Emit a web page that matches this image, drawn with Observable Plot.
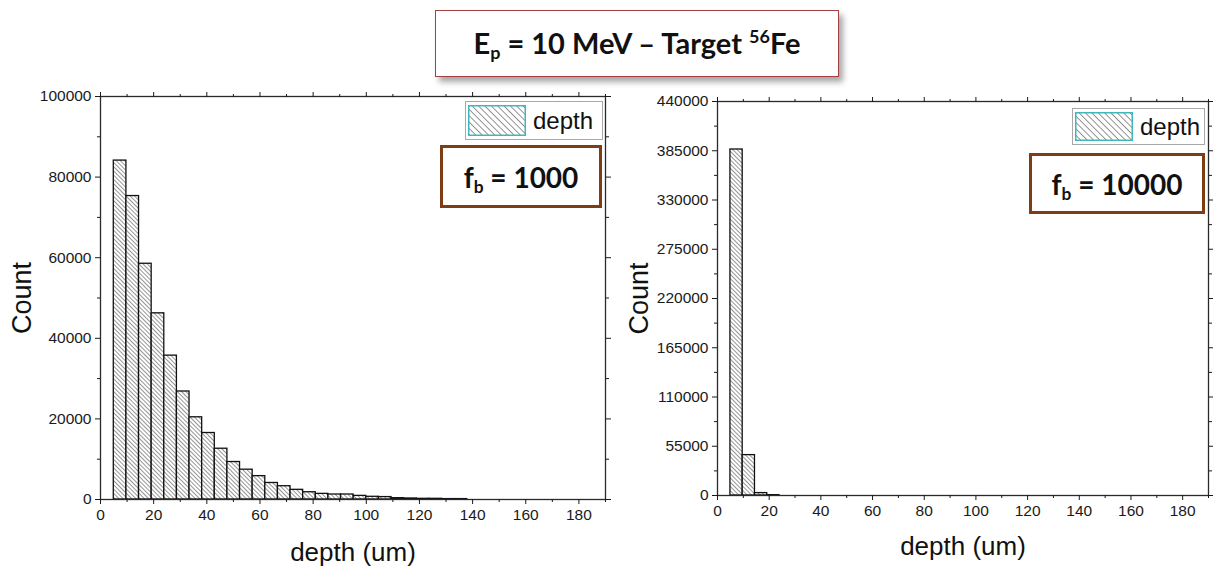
<!DOCTYPE html>
<html>
<head>
<meta charset="utf-8">
<script src="https://cdn.jsdelivr.net/npm/d3@7"></script>
<script src="https://cdn.jsdelivr.net/npm/@observablehq/plot@0.6"></script>
<style>
  body { margin: 0; background: #fff; }
  #page { position: relative; width: 1213px; height: 566px; overflow: hidden; font-family: "Liberation Sans", Arial, sans-serif; }
  .panel { position: absolute; top: 0; }
  .title { position: absolute; left: 435px; top: 10px; width: 404px; height: 67px; box-sizing: border-box;
           border: 1px solid #a04040; background: #fff; box-shadow: 4px 5px 6px rgba(0,0,0,0.35);
           display: flex; align-items: center; justify-content: center; padding-bottom: 3px;
           font-family: Lato, "Open Sans", sans-serif; font-weight: bold; font-size: 29px; color: #111; }
  .fb { position: absolute; box-sizing: border-box; border: 3px solid #7e3d12; background: #fff;
        display: flex; align-items: center; justify-content: center;
        font-family: Lato, "Open Sans", sans-serif; font-weight: bold; font-size: 28px; color: #111; }
  .legend { position: absolute; box-sizing: border-box; border: 1.5px solid #a8a8a8; background: #fff;
            display: flex; align-items: center; font-size: 24px; color: #111; }
  .legend svg { margin-left: 2px; margin-right: 7px; }
  sub { font-size: 0.62em; vertical-align: -0.3em; line-height: 0; }
  sup { font-size: 0.62em; vertical-align: 0.6em; line-height: 0; }
</style>
</head>
<body>
<div id="page">
  <div class="title"><span>E<sub>p</sub> = 10 MeV – Target <sup>56</sup>Fe</span></div>
</div>
<script>
// Histogram bins of implantation depth (um)
const depthBinStart = 5;
const depthBinWidth = 4.75;

// Counts per bin, boost factor fb = 1000
const countsFb1000 = [84100, 75300, 58500, 46200, 35700, 26800, 20400, 16500, 12600, 9300,
                      7400, 5800, 4100, 3300, 2400, 1800, 1400, 1240, 1240, 900,
                      670, 600, 330, 250, 170, 170, 100, 100];
// Counts per bin, boost factor fb = 10000
const countsFb10000 = [386400, 45100, 2700, 400];

const xTicks = [0, 20, 40, 60, 80, 100, 120, 140, 160, 180];
const xMinorTicks = [10, 30, 50, 70, 90, 110, 130, 150, 170, 190];
const yTicksFb1000 = [0, 20000, 40000, 60000, 80000, 100000];
const yTicksFb10000 = [0, 55000, 110000, 165000, 220000, 275000, 330000, 385000, 440000];
const fbLabels = ["1000", "10000"];
const legendLabel = "depth";

const page = document.getElementById("page");

function addHatch(svg, id, spacing, color) {
  const p = d3.select(svg).insert("defs", ":first-child")
    .append("pattern")
    .attr("id", id)
    .attr("patternUnits", "userSpaceOnUse")
    .attr("width", spacing).attr("height", spacing)
    .attr("patternTransform", "rotate(-45)");
  p.append("rect").attr("width", spacing).attr("height", spacing).attr("fill", "#fff");
  p.append("line").attr("x1", spacing / 2).attr("x2", spacing / 2)
    .attr("y1", 0).attr("y2", spacing)
    .attr("stroke", color).attr("stroke-width", 0.9);
}

function histogram({counts, yTicks, left, width, margin, patternId, labelDy}) {
  const bins = counts.map((count, i) => ({
    x1: depthBinStart + i * depthBinWidth,
    x2: depthBinStart + (i + 1) * depthBinWidth,
    count
  }));
  const yMinor = yTicks.slice(1).map((t, i) => (t + yTicks[i]) / 2);
  const blank = () => "";
  const chart = Plot.plot({
    width, height: 566,
    marginLeft: margin.left, marginRight: margin.right,
    marginTop: margin.top, marginBottom: margin.bottom,
    x: {domain: [0, 190]},
    y: {domain: [0, yTicks[yTicks.length - 1]]},
    style: {fontFamily: "'Liberation Sans', Arial, sans-serif", fontSize: "15.5px", color: "#1a1a1a", background: "transparent", overflow: "visible"},
    marks: [
      Plot.rect(bins, {x1: "x1", x2: "x2", y1: 0, y2: "count",
        fill: `url(#${patternId})`, stroke: "#111", strokeWidth: 1.3}),
      Plot.frame({stroke: "#2a2a2a", strokeWidth: 1.3}),
      Plot.axisX({ticks: xTicks, tickSize: 5, tickPadding: 4, tickFormat: "d", label: null}),
      Plot.axisX({ticks: xMinorTicks, tickSize: 3, tickFormat: blank, label: null}),
      Plot.axisX({anchor: "top", ticks: xTicks, tickSize: 5, tickFormat: blank, label: null}),
      Plot.axisX({anchor: "top", ticks: xMinorTicks, tickSize: 3, tickFormat: blank, label: null}),
      Plot.axisY({ticks: yTicks, tickSize: 5, tickPadding: 4, tickFormat: "d", label: null}),
      Plot.axisY({ticks: yMinor, tickSize: 3, tickFormat: blank, label: null}),
      Plot.axisY({anchor: "right", ticks: yTicks, tickSize: 5, tickFormat: blank, label: null}),
      Plot.axisY({anchor: "right", ticks: yMinor, tickSize: 3, tickFormat: blank, label: null}),
      Plot.text(["depth (um)"], {text: d => d, frameAnchor: "bottom", dy: labelDy, lineAnchor: "middle",
        textAnchor: "middle", fontSize: 26, fill: "#111"}),
      Plot.text(["Count"], {text: d => d, frameAnchor: "left", dx: -78, rotate: -90, lineAnchor: "middle",
        textAnchor: "middle", fontSize: 27, fill: "#111"})
    ]
  });
  addHatch(chart, patternId, 3, "#8a8a8a");
  chart.classList.add("panel");
  chart.style.left = left + "px";
  page.appendChild(chart);
}

histogram({counts: countsFb1000, yTicks: yTicksFb1000, left: 0, width: 615,
  margin: {left: 100, right: 10, top: 96, bottom: 67}, patternId: "hatch-fb1000", labelDy: 53});
histogram({counts: countsFb10000, yTicks: yTicksFb10000, left: 615, width: 598,
  margin: {left: 102, right: 5, top: 101, bottom: 71}, patternId: "hatch-fb10000", labelDy: 51});

// Legends and boost-factor boxes
function legend(x, y, w, h, id) {
  const div = document.createElement("div");
  div.className = "legend";
  Object.assign(div.style, {left: x + "px", top: y + "px", width: w + "px", height: h + "px"});
  div.innerHTML = `<svg width="58" height="${h - 8}"><defs><pattern id="${id}" patternUnits="userSpaceOnUse" width="4.5" height="4.5" patternTransform="rotate(-45)"><rect width="4.5" height="4.5" fill="#fff"/><line x1="2.25" x2="2.25" y1="0" y2="4.5" stroke="#8a8a8a" stroke-width="0.9"/></pattern></defs><rect x="0.75" y="0.75" width="56.5" height="${h - 9.5}" fill="url(#${id})" stroke="#3fb8bd" stroke-width="1.5"/></svg><span>${legendLabel}</span>`;
  page.appendChild(div);
}
function fbBox(x, y, w, h, label) {
  const div = document.createElement("div");
  div.className = "fb";
  Object.assign(div.style, {left: x + "px", top: y + "px", width: w + "px", height: h + "px"});
  div.innerHTML = `<span>f<sub>b</sub> = ${label}</span>`;
  page.appendChild(div);
}
legend(465, 101, 138, 39, "leg-hatch-1");
legend(1072, 108, 133, 37, "leg-hatch-2");
fbBox(440, 145, 162, 63, fbLabels[0]);
fbBox(1029, 153, 176, 61, fbLabels[1]);
</script>
</body>
</html>
